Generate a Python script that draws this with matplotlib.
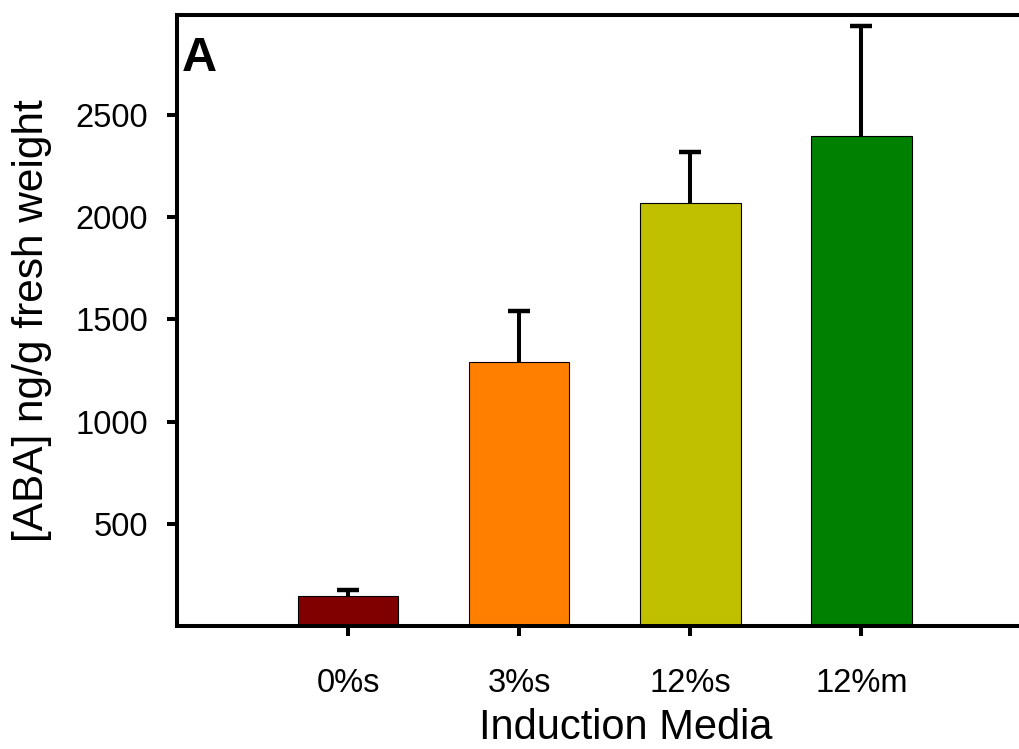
import matplotlib
matplotlib.use("Agg")
import matplotlib.pyplot as plt
import numpy as np

plt.rcParams["font.family"] = ["Liberation Sans", "DejaVu Sans"]

# data
media = ["0%s", "3%s", "12%s", "12%m"]
aba = [145, 1293, 2071, 2397]
aba_err = [30, 246, 247, 541]
bar_colors = ["#800000", "#FF8000", "#C0C000", "#008000"]

fig = plt.figure(figsize=(10.19, 7.49), dpi=100)
ax = fig.add_axes([0.1737, 0.1645, 0.8263 + 0.03, 0.8155])

x = np.arange(len(media))
tops = np.array(aba) + np.array(aba_err)

ax.bar(x, aba, width=0.588, color=bar_colors, edgecolor="black", linewidth=0.8, zorder=2)
# one-sided error bars: stem up from the bar top, cap only at the top
ax.errorbar(x, aba, yerr=[np.zeros(len(aba)), aba_err], fmt="none",
            ecolor="black", elinewidth=2.9, capsize=0, zorder=3)
ax.plot(x, tops, ls="none", marker="_", ms=16, mew=3.2, color="black", zorder=3)

ax.set_xlim(-1.0, 4.1)
ax.set_ylim(0, 2990)
ax.set_xticks(x)
ax.set_xticklabels(media)
ax.set_yticks([500, 1000, 1500, 2000, 2500])

for side in ["left", "bottom", "top"]:
    ax.spines[side].set_linewidth(2.9)
ax.spines["right"].set_visible(False)

ax.tick_params(axis="both", direction="out", length=7.5, width=2.9, labelsize=23.5)
ax.tick_params(axis="y", pad=13.5)
ax.tick_params(axis="x", pad=23)

ax.set_xlabel("Induction Media", fontsize=30)
ax.set_ylabel("[ABA] ng/g fresh weight", fontsize=30.5)
ax.xaxis.set_label_coords(0.514, -0.1345)
ax.yaxis.set_label_coords(-0.143, 0.5)

ax.text(0.006, 0.965, "A", transform=ax.transAxes, fontsize=35,
        fontweight="bold", ha="left", va="top")

fig.savefig("out.png", dpi=100)
